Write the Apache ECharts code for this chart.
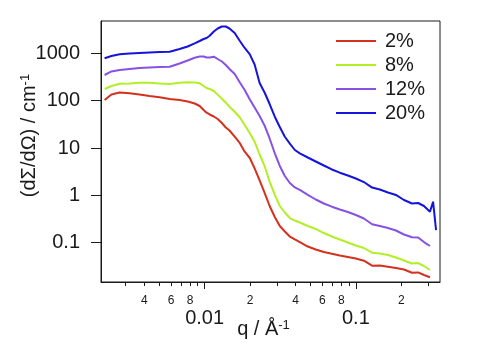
<!DOCTYPE html>
<html>
<head>
<meta charset="utf-8">
<script src="https://cdn.jsdelivr.net/npm/echarts@6/dist/echarts.min.js"></script>
<style>html,body{margin:0;padding:0;background:#fff}#c{width:477px;height:346px}</style>
</head>
<body>
<div id="c"></div>
<script>
// scattering vector q (1/Å)
const q = [0.00218, 0.00242, 0.00274, 0.00319, 0.00371, 0.00432, 0.00504, 0.00587, 0.00683, 0.00772,
  0.00859, 0.00927, 0.00985, 0.0103, 0.0108, 0.0115, 0.0122, 0.0130, 0.0138, 0.0146,
  0.0158, 0.0171, 0.0184, 0.0199, 0.0214, 0.0231, 0.0250, 0.0269, 0.0291, 0.0314,
  0.0339, 0.0366, 0.0395, 0.0426, 0.0481, 0.0543, 0.0614, 0.0694, 0.0783, 0.0885,
  0.100, 0.113, 0.128, 0.144, 0.163, 0.184, 0.208, 0.235, 0.258, 0.282,
  0.309, 0.324, 0.339];

const i2 = [103, 135, 149, 143, 135, 125, 118, 108, 103, 95.9,
  87.1, 77.1, 63.4, 55.6, 51.0, 46.3, 41.0, 33.7, 27.1, 23.4,
  17.3, 12.6, 8.35, 6.15, 3.7, 2.06, 1.10, 0.596, 0.349, 0.225,
  0.172, 0.135, 0.117, 0.103, 0.0831, 0.0719, 0.0636, 0.0583, 0.0537, 0.0499,
  0.0464, 0.0417, 0.0327, 0.0329, 0.0311, 0.0292, 0.0272, 0.0232, 0.0236, 0.0208,
  0.0186, null, null];

const i8 = [176, 204, 228, 230, 238, 238, 230, 225, 238, 244,
  242, 232, 204, 185, 176, 160, 134, 110, 90.6, 74.5,
  58.4, 44.1, 30.6, 20.4, 13.6, 7.29, 4.03, 1.94, 1.02, 0.596,
  0.434, 0.332, 0.294, 0.267, 0.225, 0.195, 0.160, 0.135, 0.117, 0.101,
  0.0873, 0.0773, 0.0615, 0.0591, 0.0550, 0.0487, 0.0421, 0.0364, 0.0372, 0.0322,
  0.0265, null, null];

const i12 = [348, 413, 444, 466, 489, 501, 513, 521, 609, 705,
  807, 856, 856, 815, 815, 848, 758, 671, 566, 466,
  365, 242, 168, 106, 71.6, 47.4, 29.1, 15.9, 7.73, 4.17,
  2.56, 1.82, 1.47, 1.30, 1.02, 0.817, 0.673, 0.576, 0.503, 0.445,
  0.385, 0.324, 0.245, 0.225, 0.204, 0.181, 0.149, 0.130, 0.129, 0.103,
  0.0852, null, null];

const i20 = [784, 877, 952, 990, 1015, 1040, 1065, 1081, 1233, 1392,
  1626, 1819, 2004, 2104, 2353, 2886, 3340, 3681, 3681, 3340,
  2684, 1819, 1294, 947, 580, 236, 145, 84.9, 45.8, 27.8,
  17.3, 12.4, 9.07, 7.73, 6.30, 5.19, 4.27, 3.52, 3.01, 2.63,
  2.27, 1.91, 1.46, 1.33, 1.15, 1.02, 0.798, 0.673, 0.689, 0.596,
  0.452, 0.734, 0.185];

const seriesNames = ['2%', '8%', '12%', '20%'];
const seriesValues = [i2, i8, i12, i20];
const seriesColors = ['#d4311e', '#b2ef26', '#8752e4', '#1414dc'];

// axis ticks and labels
const xMinorTicks = [0.003, 0.004, 0.005, 0.006, 0.007, 0.008, 0.009,
  0.02, 0.03, 0.04, 0.05, 0.06, 0.07, 0.08, 0.09, 0.2, 0.3];
const xMinorLabels = [0.004, 0.006, 0.008, 0.02, 0.04, 0.06, 0.08, 0.2];
const xMajorTicks = [0.01, 0.1];
const yTicks = [0.1, 1, 10, 100, 1000];

const FONT = 'Liberation Sans, Arial, Helvetica, sans-serif';
const INK = '#1a1a1a';
const xMin = 0.002064, xMax = 0.36;
const yMin = 0.01479, yMax = 4809;

const chart = echarts.init(document.getElementById('c'), null, {renderer: 'canvas'});
chart.setOption({
  animation: false,
  backgroundColor: '#fff',
  grid: {left: 101, right: 37, top: 21, bottom: 64, show: true, borderColor: INK, borderWidth: 1,
    backgroundColor: 'transparent', containLabel: false, outerBoundsMode: 'none'},
  legend: {
    orient: 'vertical', left: 336, top: 31, padding: 0,
    icon: 'rect', itemWidth: 40, itemHeight: 2, itemGap: 4,
    data: seriesNames,
    textStyle: {fontSize: 20, color: INK, fontFamily: FONT, padding: [0, 0, 0, 4]}
  },
  xAxis: [
    {
      type: 'log', logBase: 10, min: xMin, max: xMax, position: 'bottom',
      axisLine: {show: true, lineStyle: {color: INK, width: 1}},
      axisTick: {show: true, inside: false, length: 4, customValues: xMinorTicks, lineStyle: {color: INK}},
      axisLabel: {
        customValues: xMinorLabels, fontSize: 12, margin: 13, color: INK, fontFamily: FONT,
        formatter: v => String(Math.round(v / Math.pow(10, Math.floor(Math.log10(v) + 1e-9))))
      },
      splitLine: {show: false}, minorTick: {show: false}
    },
    {
      type: 'log', logBase: 10, min: xMin, max: xMax, position: 'bottom',
      axisLine: {show: false},
      axisTick: {show: true, inside: false, length: 7, customValues: xMajorTicks, lineStyle: {color: INK}},
      axisLabel: {
        customValues: xMajorTicks, fontSize: 20, margin: 26, color: INK, fontFamily: FONT,
        formatter: v => String(Number(Number(v).toPrecision(3)))
      },
      splitLine: {show: false},
      name: 'q / Å{s|-1}', nameLocation: 'middle', nameGap: 37, nameMoveOverlap: false,
      nameTextStyle: {fontSize: 20, color: INK, fontFamily: FONT, padding: [0, 14, 0, 0],
        rich: {s: {fontSize: 13, verticalAlign: 'top', lineHeight: 13, color: INK, fontFamily: FONT}}}
    }
  ],
  yAxis: {
    type: 'log', logBase: 10, min: yMin, max: yMax,
    axisLine: {show: true, lineStyle: {color: INK, width: 1}},
    axisTick: {show: true, inside: false, length: 10, customValues: yTicks, lineStyle: {color: INK}},
    axisLabel: {
      customValues: yTicks, fontSize: 20, margin: 21, color: INK, fontFamily: FONT,
      formatter: v => String(Number(Number(v).toPrecision(3)))
    },
    splitLine: {show: false}, minorTick: {show: false},
    name: '(dΣ/dΩ) / cm{s|-1}', nameLocation: 'middle', nameGap: 62, nameRotate: 90, nameMoveOverlap: false,
    nameTextStyle: {fontSize: 20, color: INK, fontFamily: FONT, padding: [0, 0, 0, 32],
      rich: {s: {fontSize: 13, verticalAlign: 'top', lineHeight: 13, color: INK, fontFamily: FONT}}}
  },
  series: seriesNames.map((name, k) => ({
    name: name,
    type: 'line',
    xAxisIndex: 0,
    yAxisIndex: 0,
    showSymbol: false,
    symbol: 'none',
    smooth: false,
    lineStyle: {width: 2, color: seriesColors[k]},
    itemStyle: {color: seriesColors[k]},
    data: q.map((x, j) => [x, seriesValues[k][j]]).filter(p => p[1] != null)
  }))
});
</script>
</body>
</html>
